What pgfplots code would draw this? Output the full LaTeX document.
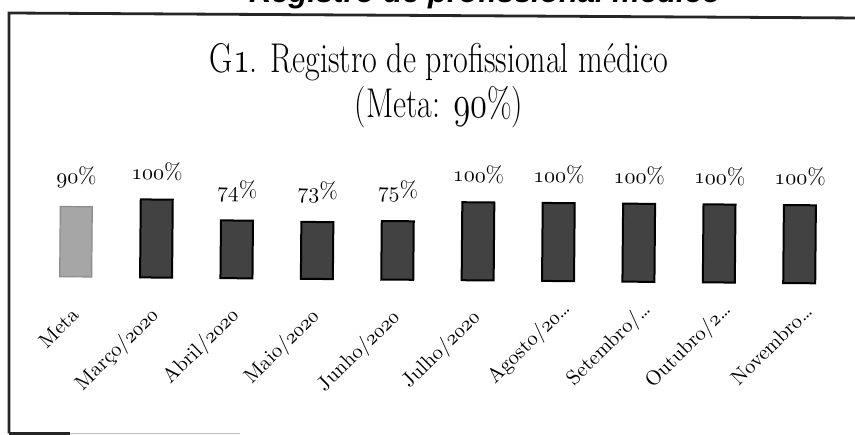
\documentclass[border=0pt]{standalone}
\usepackage{fontspec}
\usepackage{pgfplots}
\pgfplotsset{compat=1.18}
\usepackage{graphicx}
\newfontfamily\hdrfont{Liberation Sans}
\newcommand\osn[1]{{\fontencoding{OML}\fontfamily{cmm}\fontseries{m}\fontshape{it}\selectfont #1}}

\begin{document}
\begin{tikzpicture}
\useasboundingbox (0,0) rectangle (427.5pt,217pt);
\clip (0,0) rectangle (427.5pt,217pt);
% cut-off page header
\node[anchor=base, inner sep=0pt, font=\hdrfont\bfseries\itshape\fontsize{15.5}{18}\selectfont] at (242.5pt,215.5pt) {Registro de profissional médico};
% frame
\draw[line width=1.4pt, black!85] (4.5pt,0.3pt) -- (4.5pt,210.5pt) -- (430pt,208pt);
\draw[line width=1.2pt, black!85] (4.5pt,0.3pt) -- (35pt,0.3pt);
\draw[line width=0.6pt, black!25] (35pt,0.3pt) -- (120pt,0.3pt);
% title
\node[anchor=base, inner sep=0pt, font=\fontsize{16}{19}\selectfont] at (219.5pt,180.5pt) {\scalebox{1}[1.3]{G\osn{1}. Registro de profissional médico}};
\node[anchor=base, inner sep=0pt, font=\fontsize{16}{19}\selectfont] at (219.5pt,158pt) {\scalebox{1}[1.3]{(Meta: \osn{90}\%)}};
\begin{scope}[rotate around={-0.5:(219pt,97pt)}]
\begin{axis}[
  at={(17.9pt,77pt)}, anchor=south west,
  scale only axis, width=402pt, height=39pt,
  xmin=-0.5, xmax=9.5, ymin=0, ymax=100,
  axis line style={draw=none}, tick style={draw=none},
  ytick=\empty,
  xtick={0,...,9},
  xticklabels={Meta, Março/\osn{2020}, Abril/\osn{2020}, Maio/\osn{2020}, Junho/\osn{2020}, Julho/\osn{2020}, Agosto/\osn{20}\dots\kern-7pt, Setembro/\dots\kern-7pt, Outubro/\osn{2}\dots\kern-7pt, Novembro\dots\kern-7pt},
  xticklabel style={yshift=-13pt, rotate=45, anchor=east, inner sep=0pt, font=\fontsize{10.3}{12}\selectfont},
  ybar, bar width=16pt, bar shift=0pt,
  clip=false,
  point meta=explicit symbolic,
  nodes near coords={\osn{\pgfplotspointmeta}\%},
  every node near coord/.append style={anchor=south, inner sep=0pt, yshift=9pt, font=\fontsize{11.3}{13}\selectfont, black},
]
\addplot[fill=black!35, draw=black!45, line width=0.6pt] table[meta=m] {
x y m
0 90 90
};
\addplot[fill=black!74, draw=black, line width=1pt] table[meta=m] {
x y m
1 100 100
2 74 74
3 73 73
4 75 75
5 100 100
6 100 100
7 100 100
8 100 100
9 100 100
};
\end{axis}
\end{scope}
\end{tikzpicture}
\end{document}
